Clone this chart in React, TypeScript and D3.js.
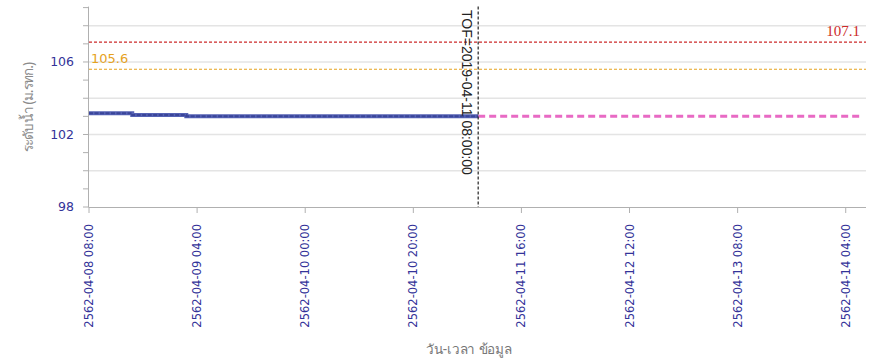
import React from "react";
import * as d3 from "d3";

// ---- data ----
const observedTimes = ["2019-04-08T08:00:00Z", "2019-04-08T16:00:00Z", "2019-04-09T02:00:00Z", "2019-04-11T08:00:00Z"];
const observedValues = [103.17, 103.07, 103.01, 103.01];
const forecastTimes = ["2019-04-11T08:00:00Z", "2019-04-14T07:00:00Z"];
const forecastValues = [103.01, 103.01];
const thresholdValues = [107.1, 105.6];
const thresholdLabels = ["107.1", "105.6"];
const tofTime = "2019-04-11T08:00:00Z";
const tofLabel = "TOF=2019-04-11 08:00:00";
const xTickTimes = [
  "2019-04-08T08:00:00Z", "2019-04-09T04:00:00Z", "2019-04-10T00:00:00Z", "2019-04-10T20:00:00Z",
  "2019-04-11T16:00:00Z", "2019-04-12T12:00:00Z", "2019-04-13T08:00:00Z", "2019-04-14T04:00:00Z",
];
const xTickLabels = [
  "2562-04-08 08:00", "2562-04-09 04:00", "2562-04-10 00:00", "2562-04-10 20:00",
  "2562-04-11 16:00", "2562-04-12 12:00", "2562-04-13 08:00", "2562-04-14 04:00",
];
const yLabelTicks = [98, 102, 106];
const yGridTicks = [100, 102, 104, 106, 108];
const yMinorTicks = [98, 99, 100, 101, 102, 103, 104, 105, 106, 107, 108, 109];
const yTitle = "ระดับน้ำ (ม.รทก.)";
const xTitle = "วัน-เวลา ข้อมูล";

const W = 875, H = 360;
const left = 89, right = 866, top = 7.6, bottom = 207;

export default function App() {
  const x = d3.scaleUtc()
    .domain([new Date("2019-04-08T08:00:00Z"), new Date("2019-04-14T07:45:00Z")])
    .range([left, right]);
  const y = d3.scaleLinear().domain([98, 109]).range([bottom, top]);

  const obs = observedTimes.map((t, i) => [new Date(t), observedValues[i]] as [Date, number]);
  const fc = forecastTimes.map((t, i) => [new Date(t), forecastValues[i]] as [Date, number]);
  const line = d3.line<[Date, number]>().x(d => x(d[0])).y(d => y(d[1])).curve(d3.curveStepAfter);
  const tofX = x(new Date(tofTime));
  const thColors = ["#cc2a2a", "#e6a21e"];
  const sans = "'Liberation Sans', Arial, sans-serif";
  const thai = "'Noto Sans', 'DejaVu Sans', sans-serif";

  return (
    <svg width={W} height={H} style={{ position: "absolute", left: 0, top: 0, background: "#fff" }}>
      {yGridTicks.map(v => (
        <line key={"g" + v} x1={left} x2={right} y1={y(v)} y2={y(v)} stroke="#e4e4e4" strokeWidth={1.5} />
      ))}
      {/* axes */}
      <line x1={left - 0.5} x2={left - 0.5} y1={top - 1} y2={bottom} stroke="#b0b0b0" />
      <line x1={left - 0.5} x2={right} y1={bottom + 0.5} y2={bottom + 0.5} stroke="#b0b0b0" />
      {yMinorTicks.map(v => (
        <line key={"t" + v} x1={left - 6} x2={left - 0.5} y1={y(v)} y2={y(v)} stroke="#b0b0b0" />
      ))}
      {yLabelTicks.map(v => (
        <text key={"yl" + v} x={left - 15} y={y(v)} dy="0.35em" textAnchor="end" fill="#333399" fontSize={12.5} fontFamily="'DejaVu Sans', sans-serif">{v}</text>
      ))}
      {xTickTimes.map((t, i) => {
        const px = x(new Date(t));
        return (
          <g key={"x" + i}>
            <line x1={px} x2={px} y1={bottom} y2={bottom + 6} stroke="#b0b0b0" />
            <text transform={`translate(${px},${bottom + 17}) rotate(-90)`} textAnchor="end" dy="0.35em" fill="#333399" fontSize={11.5} fontFamily="'DejaVu Sans', sans-serif">{xTickLabels[i]}</text>
          </g>
        );
      })}
      {/* thresholds */}
      {thresholdValues.map((v, i) => (
        <line key={"th" + i} x1={left} x2={right} y1={y(v)} y2={y(v)} stroke={thColors[i]} strokeWidth={1.2} strokeDasharray="3,2" />
      ))}
      <text x={860} y={y(thresholdValues[0]) - 6} textAnchor="end" fill={thColors[0]} fontSize={15} fontFamily="'Liberation Serif', serif">{thresholdLabels[0]}</text>
      <text x={91} y={y(thresholdValues[1]) - 6} textAnchor="start" fill={thColors[1]} fontSize={13} fontFamily="'DejaVu Sans', sans-serif">{thresholdLabels[1]}</text>
      {/* series */}
      <path d={line(fc) || ""} fill="none" stroke="#e86ac4" strokeWidth={3} strokeDasharray="7,4" />
      <path d={line(obs) || ""} fill="none" stroke="#5562b4" strokeWidth={4} />
      <path d={line(obs) || ""} fill="none" stroke="#3a4599" strokeWidth={2} strokeDasharray="4,1.5" />
      {/* TOF */}
      <line x1={tofX} x2={tofX} y1={top - 1} y2={bottom} stroke="#222" strokeWidth={1.2} strokeDasharray="3,2" />
      <text transform={`translate(${tofX - 16},${10}) rotate(90)`} textAnchor="start" fill="#222" fontSize={14} fontFamily={sans}>{tofLabel}</text>
      {/* titles */}
      <text transform={`translate(28,${107}) rotate(-90)`} textAnchor="middle" dy="0.35em" fill="#8a8a8a" fontSize={13.5} fontFamily={thai} textLength={90} lengthAdjust="spacing">{yTitle}</text>
      <text x={469} y={349} textAnchor="middle" dy="0.35em" fill="#777" fontSize={13.5} fontFamily={thai} textLength={86} lengthAdjust="spacing">{xTitle}</text>
    </svg>
  );
}
